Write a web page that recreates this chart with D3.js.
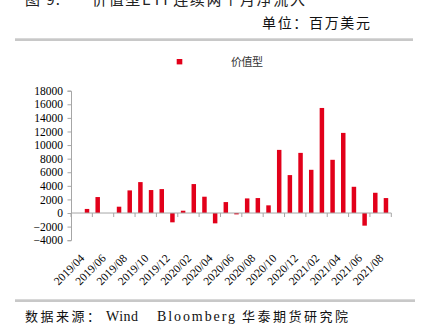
<!DOCTYPE html>
<html>
<head>
<meta charset="utf-8">
<script src="https://cdn.jsdelivr.net/npm/d3@7"></script>
<style>
  html, body { margin: 0; padding: 0; background: #fff; }
  svg { display: block; }
</style>
</head>
<body>
<svg id="chart" width="429" height="332"></svg>
<script>
// Monthly net flows of value-style ETFs (millions USD)
const months = [
  "2019/04","2019/05","2019/06","2019/07","2019/08","2019/09","2019/10","2019/11","2019/12",
  "2020/01","2020/02","2020/03","2020/04","2020/05","2020/06","2020/07","2020/08","2020/09",
  "2020/10","2020/11","2020/12","2021/01","2021/02","2021/03","2021/04","2021/05","2021/06",
  "2021/07","2021/08","2021/09"
];
const valueFlows = [
  0, 600, 2350, 0, 930, 3330, 4550, 3380, 3520,
  -1370, 340, 4260, 2400, -1520, 1610, -200, 2150, 2200,
  1130, 9290, 5580, 8850, 6360, 15460, 7830, 11790, 3860,
  -1860, 2980, 2200
];
const yTicks = [-4000, -2000, 0, 2000, 4000, 6000, 8000, 10000, 12000, 14000, 16000, 18000];
const seriesName = "价值型";

const svg = d3.select("#chart");
const cjk = "'Noto Sans CJK SC', sans-serif";
const serif = "'Liberation Serif', 'DejaVu Serif', serif";
const axisColor = "#a6a6a6";
const barColor = "#e2001a";

// Header: figure title (clipped by the top edge), unit and rule
const title = svg.append("g").attr("fill", "#222").attr("font-family", cjk).attr("font-size", 15);
title.append("text").attr("x", 25).attr("y", 5).attr("textLength", 35).text("图 9:");
title.append("text").attr("x", 92).attr("y", 5).attr("textLength", 213).text("价值型ETF连续两个月净流入");

svg.append("text")
  .attr("x", 262).attr("y", 28)
  .attr("font-family", cjk).attr("font-size", 14).attr("fill", "#111")
  .attr("textLength", 108)
  .text("单位：百万美元");

svg.append("rect").attr("x", 15).attr("y", 38.3).attr("width", 398).attr("height", 2.7).attr("fill", "#c8c8c8");

// Legend
svg.append("rect").attr("x", 176.7).attr("y", 59).attr("width", 5.6).attr("height", 5.4).attr("fill", barColor);
svg.append("text")
  .attr("x", 231).attr("y", 65.5)
  .attr("font-family", cjk).attr("font-size", 11).attr("fill", "#333")
  .attr("textLength", 32)
  .text(seriesName);

// Scales
const x = d3.scaleBand().domain(months).range([71, 391.3]).paddingInner(0.58).paddingOuter(0.29);
const y = d3.scaleLinear().domain([-4000, 18000]).range([240.2, 90.7]);

// Bars
svg.append("g").selectAll("rect")
  .data(months.map((m, i) => ({ m, v: valueFlows[i] })))
  .join("rect")
  .attr("x", d => x(d.m))
  .attr("width", x.bandwidth())
  .attr("y", d => y(Math.max(0, d.v)))
  .attr("height", d => Math.abs(y(d.v) - y(0)))
  .attr("fill", barColor);

// Y axis
const yAxis = svg.append("g")
  .attr("transform", "translate(71,0)")
  .call(d3.axisLeft(y).tickValues(yTicks).tickSize(3.5).tickPadding(4.5).tickFormat(d3.format("d")));
yAxis.select(".domain").attr("stroke", axisColor);
yAxis.selectAll(".tick line").attr("stroke", axisColor);
yAxis.selectAll("text").attr("font-family", serif).attr("font-size", 11.5).attr("fill", "#000");

// X axis along zero line, ticks at every second category boundary
const step = x.step();
const x0 = x.range()[0];
const boundaries = d3.range(0, months.length + 1, 2).map(k => x0 + k * step);
const xAxis = svg.append("g");
xAxis.append("line")
  .attr("x1", x0).attr("x2", x.range()[1])
  .attr("y1", y(0)).attr("y2", y(0))
  .attr("stroke", axisColor);
xAxis.selectAll("line.tick")
  .data(boundaries)
  .join("line")
  .attr("class", "tick")
  .attr("x1", d => d).attr("x2", d => d)
  .attr("y1", y(0)).attr("y2", y(0) + 4)
  .attr("stroke", axisColor);

// Category labels at the bottom of the plot, rotated
const labelY = y(-4000) + 16;
svg.append("g").selectAll("text")
  .data(months.filter((m, i) => i % 2 === 0))
  .join("text")
  .attr("transform", d => `translate(${x(d) + x.bandwidth() / 2 + 6},${labelY}) rotate(-45)`)
  .attr("text-anchor", "end")
  .attr("dy", "0.35em")
  .attr("font-family", serif).attr("font-size", 11.5).attr("fill", "#000")
  .text(d => d);

// Footer: rule and source line
svg.append("rect").attr("x", 15).attr("y", 299.3).attr("width", 400).attr("height", 2.7).attr("fill", "#c8c8c8");
const src = svg.append("g").attr("font-size", 13).attr("fill", "#111");
src.append("text").attr("x", 25).attr("y", 321).attr("font-family", cjk).attr("textLength", 75).text("数据来源：");
src.append("text").attr("x", 106).attr("y", 321).attr("font-family", serif).attr("font-size", 14).attr("textLength", 32).text("Wind");
src.append("text").attr("x", 157).attr("y", 321).attr("font-family", serif).attr("font-size", 14).attr("textLength", 78).text("Bloomberg");
src.append("text").attr("x", 242).attr("y", 321).attr("font-family", cjk).attr("textLength", 106).text("华泰期货研究院");
</script>
</body>
</html>
